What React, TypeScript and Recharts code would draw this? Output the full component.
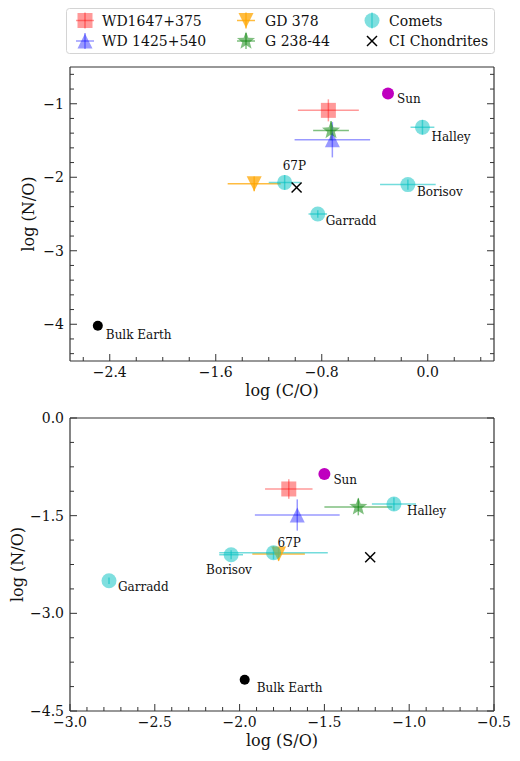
import React from 'react';
import { ScatterChart, Scatter, XAxis, YAxis, ErrorBar } from 'recharts';

const FONT = '"DejaVu Serif", "Liberation Serif", serif';

// White dwarfs, in legend order
const wdNames = ['WD1647+375', 'WD 1425+540', 'GD 378', 'G 238-44'];
const wdLogCO = [-0.75, -0.72, -1.31, -0.73];
const wdLogCOErr = [0.23, 0.285, 0.2, 0.135];
const wdLogSO = [-1.71, -1.66, -1.77, -1.3];
const wdLogSOErr = [0.14, 0.25, 0.155, 0.2];
const wdLogNO = [-1.09, -1.49, -2.09, -1.365];
const wdLogNOErr = [0.15, 0.24, 0.1, 0.13];

// Comets
const cometNames = ['67P', 'Borisov', 'Garradd', 'Halley'];
const cometLogCO = [-1.08, -0.15, -0.83, -0.04];
const cometLogCOErr = [0.12, 0.21, 0.07, 0.09];
const cometLogSO = [-1.8, -2.05, -2.77, -1.09];
const cometLogSOErr = [0.32, 0.07, 0, 0.13];
const cometLogNO = [-2.07, -2.1, -2.5, -1.32];
const cometLogNOErr = [0.1, 0.07, 0.05, 0.1];

// Reference compositions
const refNames = ['Sun', 'Bulk Earth', 'CI Chondrites'];
const refLogCO = [-0.3, -2.49, -0.99];
const refLogSO = [-1.5, -1.97, -1.23];
const refLogNO = [-0.86, -4.02, -2.14];

// Axis ticks
const coMajor = [-2.4, -1.6, -0.8, 0.0];
const coMinor = [-2.6, -2.4, -2.2, -2.0, -1.8, -1.6, -1.4, -1.2, -1.0, -0.8, -0.6, -0.4, -0.2, 0.0, 0.2, 0.4];
const noMajorTop = [-4, -3, -2, -1];
const noMinorTop = [-4.4, -4.2, -4.0, -3.8, -3.6, -3.4, -3.2, -3.0, -2.8, -2.6, -2.4, -2.2, -2.0, -1.8, -1.6, -1.4, -1.2, -1.0, -0.8, -0.6];
const soMajor = [-3.0, -2.5, -2.0, -1.5, -1.0, -0.5];
const soMinor = [-3.0, -2.9, -2.8, -2.7, -2.6, -2.5, -2.4, -2.3, -2.2, -2.1, -2.0, -1.9, -1.8, -1.7, -1.6, -1.5, -1.4, -1.3, -1.2, -1.1, -1.0, -0.9, -0.8, -0.7, -0.6, -0.5];
const noMajorBottom = [0.0, -1.5, -3.0, -4.5];
const noMinorBottom = [0.0, -0.375, -0.75, -1.125, -1.5, -1.875, -2.25, -2.625, -3.0, -3.375, -3.75, -4.125, -4.5];

const wdStyles = [
  { marker: 'square', color: 'red', alpha: 0.4 },
  { marker: 'triUp', color: 'blue', alpha: 0.4 },
  { marker: 'triDown', color: '#FFA500', alpha: 0.75 },
  { marker: 'star', color: 'green', alpha: 0.5 },
];
const cometStyle = { marker: 'circle', color: '#00BFBF', alpha: 0.5 };

const minus = (s: string) => s.replace('-', '\u2212');
const fmt0 = (v: number) => minus(v.toFixed(0));
const fmt1 = (v: number) => minus((Math.abs(v) < 1e-9 ? 0 : v).toFixed(1));

function starPath(cx: number, cy: number, ro: number, ri: number) {
  let d = '';
  for (let k = 0; k < 10; k++) {
    const r = k % 2 === 0 ? ro : ri;
    const a = -Math.PI / 2 + (k * Math.PI) / 5;
    d += (k ? 'L' : 'M') + (cx + r * Math.cos(a)).toFixed(2) + ',' + (cy + r * Math.sin(a)).toFixed(2);
  }
  return d + 'Z';
}

function drawMarker(kind: string, cx: number, cy: number, color: string, alpha: number) {
  const s = 7.5;
  switch (kind) {
    case 'square':
      return <rect x={cx - s} y={cy - s} width={2 * s} height={2 * s} fill={color} fillOpacity={alpha} />;
    case 'triUp':
      return <polygon points={`${cx},${cy - s} ${cx - s},${cy + s} ${cx + s},${cy + s}`} fill={color} fillOpacity={alpha} />;
    case 'triDown':
      return <polygon points={`${cx},${cy + s} ${cx - s},${cy - s} ${cx + s},${cy - s}`} fill={color} fillOpacity={alpha} />;
    case 'star':
      return <path d={starPath(cx, cy, 9.5, 4)} fill={color} fillOpacity={alpha} />;
    case 'circle':
      return <circle cx={cx} cy={cy} r={s} fill={color} fillOpacity={alpha} />;
    case 'dot':
      return <circle cx={cx} cy={cy} r={alpha} fill={color} />;
    case 'x':
      return (
        <g stroke={color} strokeWidth={1.5}>
          <line x1={cx - 5} y1={cy - 5} x2={cx + 5} y2={cy + 5} />
          <line x1={cx - 5} y1={cy + 5} x2={cx + 5} y2={cy - 5} />
        </g>
      );
    default:
      return null;
  }
}

type Side = 'bottom' | 'top' | 'left' | 'right';

const makeTick = (side: Side, majors: number[], fmt: (v: number) => string) => (p: any) => {
  const { x, y, payload } = p;
  const v = payload.value;
  const major = majors.some((m) => Math.abs(m - v) < 1e-6);
  const len = major ? 7 : 4;
  let ln;
  if (side === 'bottom') ln = [x, y, x, y - len];
  else if (side === 'top') ln = [x, y, x, y + len];
  else if (side === 'left') ln = [x, y, x + len, y];
  else ln = [x, y, x - len, y];
  return (
    <g>
      <line x1={ln[0]} y1={ln[1]} x2={ln[2]} y2={ln[3]} stroke="#333" strokeWidth={1} />
      {major && side === 'bottom' && (
        <text x={x} y={y + 16} textAnchor="middle" fontSize={14} fontFamily={FONT} fill="#111">
          {fmt(v)}
        </text>
      )}
      {major && side === 'left' && (
        <text x={x - 6} y={y + 5} textAnchor="end" fontSize={14} fontFamily={FONT} fill="#111">
          {fmt(v)}
        </text>
      )}
    </g>
  );
};

type Pt = { name: string; x: number; y: number; xerr: number; yerr: number };

interface PanelProps {
  xs: { wd: number[]; wdErr: number[]; comet: number[]; cometErr: number[]; ref: number[] };
  xDomain: [number, number];
  yDomain: [number, number];
  xMajor: number[];
  xMinor: number[];
  yMajor: number[];
  yMinor: number[];
  xFmt: (v: number) => string;
  yFmt: (v: number) => string;
  xLabel: string;
  height: number;
  marginTop: number;
  xAxisHeight: number;
  xLabelOffset: number;
  yLabelX: number;
  labelOffsets: Record<string, [number, number]>;
}

function Panel(props: PanelProps) {
  const { xs, labelOffsets } = props;
  const wdData: Pt[][] = wdNames.map((name, i) => [
    { name, x: xs.wd[i], xerr: xs.wdErr[i], y: wdLogNO[i], yerr: wdLogNOErr[i] },
  ]);
  const cometData: Pt[] = cometNames.map((name, i) => ({
    name,
    x: xs.comet[i],
    xerr: xs.cometErr[i],
    y: cometLogNO[i],
    yerr: cometLogNOErr[i],
  }));
  const refData: Pt[] = refNames.map((name, i) => ({ name, x: xs.ref[i], y: refLogNO[i], xerr: 0, yerr: 0 }));

  const label = (name: string, cx: number, cy: number) => {
    const o = labelOffsets[name];
    if (!o) return null;
    return (
      <text x={cx + o[0]} y={cy + o[1]} fontSize={12} fontFamily={FONT} fill="#111">
        {name}
      </text>
    );
  };

  const yLabel = ({ viewBox }: any) => {
    const cx = viewBox.x + props.yLabelX;
    const cy = viewBox.y + viewBox.height / 2;
    return (
      <text
        x={cx}
        y={cy}
        transform={`rotate(-90 ${cx} ${cy})`}
        textAnchor="middle"
        dominantBaseline="central"
        fontSize={16}
        fontFamily={FONT}
        fill="#111"
      >
        log (N/O)
      </text>
    );
  };

  const axisLine = { stroke: '#333', strokeWidth: 1.2 };

  return (
    <ScatterChart width={520} height={props.height} margin={{ top: props.marginTop - 1, right: 25, bottom: 0, left: 0 }}>
      <XAxis
        type="number"
        dataKey="x"
        domain={props.xDomain}
        allowDataOverflow
        ticks={props.xMinor}
        interval={0}
        tickSize={0}
        tickMargin={0}
        tickLine={false}
        axisLine={axisLine}
        height={props.xAxisHeight}
        tick={makeTick('bottom', props.xMajor, props.xFmt)}
        label={{
          value: props.xLabel,
          position: 'insideBottom',
          offset: props.xLabelOffset,
          style: { fontSize: 16, fontFamily: FONT, fill: '#111' },
        }}
      />
      <XAxis
        xAxisId="top"
        orientation="top"
        type="number"
        domain={props.xDomain}
        allowDataOverflow
        ticks={props.xMinor}
        interval={0}
        tickSize={0}
        tickMargin={0}
        tickLine={false}
        axisLine={axisLine}
        height={1}
        tick={makeTick('top', props.xMajor, props.xFmt)}
      />
      <YAxis
        type="number"
        dataKey="y"
        domain={props.yDomain}
        allowDataOverflow
        ticks={props.yMinor}
        interval={0}
        tickSize={0}
        tickMargin={0}
        tickLine={false}
        axisLine={axisLine}
        width={70}
        tick={makeTick('left', props.yMajor, props.yFmt)}
        label={{ content: yLabel }}
      />
      <YAxis
        yAxisId="right"
        orientation="right"
        type="number"
        domain={props.yDomain}
        allowDataOverflow
        ticks={props.yMinor}
        interval={0}
        tickSize={0}
        tickMargin={0}
        tickLine={false}
        axisLine={axisLine}
        width={1}
        tick={makeTick('right', props.yMajor, props.yFmt)}
      />
      {wdData.map((d, i) => {
        const st = wdStyles[i];
        return (
          <Scatter
            key={wdNames[i]}
            name={wdNames[i]}
            data={d}
            isAnimationActive={false}
            shape={(p: any) => drawMarker(st.marker, p.cx, p.cy, st.color, st.alpha)}
          >
            <ErrorBar dataKey="xerr" direction="x" width={0} stroke={st.color} strokeOpacity={st.alpha} strokeWidth={1.5} isAnimationActive={false} />
            <ErrorBar dataKey="yerr" direction="y" width={0} stroke={st.color} strokeOpacity={st.alpha} strokeWidth={1.5} isAnimationActive={false} />
          </Scatter>
        );
      })}
      <Scatter
        name="Comets"
        data={cometData}
        isAnimationActive={false}
        shape={(p: any) => (
          <g>
            {drawMarker(cometStyle.marker, p.cx, p.cy, cometStyle.color, cometStyle.alpha)}
            {label(p.payload.name, p.cx, p.cy)}
          </g>
        )}
      >
        <ErrorBar dataKey="xerr" direction="x" width={0} stroke={cometStyle.color} strokeOpacity={0.55} strokeWidth={1.5} isAnimationActive={false} />
        <ErrorBar dataKey="yerr" direction="y" width={0} stroke={cometStyle.color} strokeOpacity={0.55} strokeWidth={1.5} isAnimationActive={false} />
      </Scatter>
      <Scatter
        name="CI Chondrites"
        data={refData.filter((d) => d.name === 'CI Chondrites')}
        isAnimationActive={false}
        shape={(p: any) => drawMarker('x', p.cx, p.cy, '#000', 1)}
      />
      <Scatter
        name="Sun"
        data={refData.filter((d) => d.name === 'Sun')}
        isAnimationActive={false}
        shape={(p: any) => (
          <g>
            {drawMarker('dot', p.cx, p.cy, '#BF00BF', 6)}
            {label(p.payload.name, p.cx, p.cy)}
          </g>
        )}
      />
      <Scatter
        name="Bulk Earth"
        data={refData.filter((d) => d.name === 'Bulk Earth')}
        isAnimationActive={false}
        shape={(p: any) => (
          <g>
            {drawMarker('dot', p.cx, p.cy, '#000', 5)}
            {label(p.payload.name, p.cx, p.cy)}
          </g>
        )}
      />
    </ScatterChart>
  );
}

function LegendBox() {
  const cols = [
    { mx: 85, tx: 102 },
    { mx: 246, tx: 265 },
    { mx: 372, tx: 389 },
  ];
  const rows = [20.5, 41];
  const items = [
    { name: wdNames[0], ...wdStyles[0], h: true, v: true },
    { name: wdNames[1], ...wdStyles[1], h: true, v: true },
    { name: wdNames[2], ...wdStyles[2], h: true, v: true },
    { name: wdNames[3], ...wdStyles[3], h: true, v: true },
    { name: 'Comets', ...cometStyle, h: false, v: true },
    { name: 'CI Chondrites', marker: 'x', color: '#000', alpha: 1, h: false, v: false },
  ];
  return (
    <svg width={520} height={60} style={{ position: 'absolute', left: 0, top: 0 }}>
      <rect x={66.5} y={8.5} width={428} height={45} rx={3} fill="#fff" stroke="#d4d4d4" />
      {items.map((it, k) => {
        const c = cols[Math.floor(k / 2)];
        const y = rows[k % 2];
        return (
          <g key={it.name}>
            {it.h && <line x1={c.mx - 9} y1={y} x2={c.mx + 9} y2={y} stroke={it.color} strokeOpacity={it.alpha} strokeWidth={1.5} />}
            {it.v && <line x1={c.mx} y1={y - 8} x2={c.mx} y2={y + 8} stroke={it.color} strokeOpacity={it.alpha} strokeWidth={1.5} />}
            {drawMarker(it.marker, c.mx, y, it.color, it.alpha)}
            <text x={c.tx} y={y + 5} fontSize={14} fontFamily={FONT} fill="#111">
              {it.name}
            </text>
          </g>
        );
      })}
    </svg>
  );
}

export default function App() {
  return (
    <div style={{ position: 'absolute', left: 0, top: 0, width: 520, height: 761, background: '#fff', fontFamily: FONT }}>
      <div style={{ position: 'absolute', left: 0, top: 0 }}>
        <Panel
          xs={{ wd: wdLogCO, wdErr: wdLogCOErr, comet: cometLogCO, cometErr: cometLogCOErr, ref: refLogCO }}
          xDomain={[-2.7, 0.5]}
          yDomain={[-4.5, -0.5]}
          xMajor={coMajor}
          xMinor={coMinor}
          yMajor={noMajorTop}
          yMinor={noMinorTop}
          xFmt={fmt1}
          yFmt={fmt0}
          xLabel="log (C/O)"
          height={400}
          marginTop={67}
          xAxisHeight={39}
          xLabelOffset={4}
          yLabelX={28}
          labelOffsets={{
            Sun: [9, 10],
            Halley: [9, 14],
            '67P': [-2, -12],
            Borisov: [9, 11],
            Garradd: [8, 11],
            'Bulk Earth': [8, 13],
          }}
        />
      </div>
      <div style={{ position: 'absolute', left: 0, top: 400 }}>
        <Panel
          xs={{ wd: wdLogSO, wdErr: wdLogSOErr, comet: cometLogSO, cometErr: cometLogSOErr, ref: refLogSO }}
          xDomain={[-3.0, -0.5]}
          yDomain={[-4.5, 0]}
          xMajor={soMajor}
          xMinor={soMinor}
          yMajor={noMajorBottom}
          yMinor={noMinorBottom}
          xFmt={fmt1}
          yFmt={fmt1}
          xLabel="log (S/O)"
          height={361}
          marginTop={18}
          xAxisHeight={50}
          xLabelOffset={15}
          yLabelX={17}
          labelOffsets={{
            Sun: [9, 10],
            Halley: [13, 11],
            '67P': [4, -6],
            Borisov: [-25, 19],
            Garradd: [9, 10],
            'Bulk Earth': [12, 12],
          }}
        />
      </div>
      <LegendBox />
    </div>
  );
}
